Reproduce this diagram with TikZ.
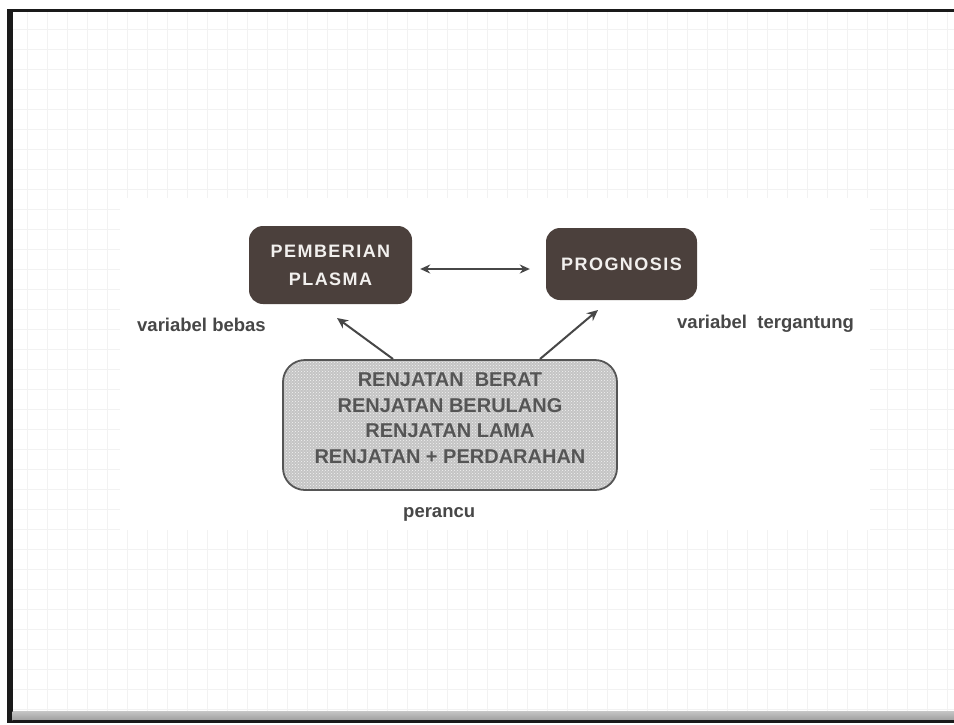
\documentclass[tikz,border=0pt]{standalone}
\usepackage{fontspec}
\setmainfont{Liberation Sans}
\usetikzlibrary{arrows.meta,patterns}
\definecolor{boxbrown}{HTML}{4B403C}
\definecolor{boxtext}{HTML}{F2F0EE}
\definecolor{labelgrey}{HTML}{474747}
\definecolor{confgrey}{HTML}{555555}
\definecolor{conffill}{HTML}{C4C4C4}
\definecolor{gridgrey}{HTML}{F2F2F2}
\definecolor{framedark}{HTML}{1A1A1A}
\tikzset{
  darkbox/.style={fill=boxbrown, draw=none, rounded corners=14pt,
    text=boxtext, font=\bfseries\fontsize{18}{28}\selectfont\addfontfeature{LetterSpace=8},
    align=center, inner sep=0pt},
  confbox/.style={draw=confgrey, line width=1.8pt, preaction={fill=conffill},
    pattern=crosshatch dots, pattern color=white!80!conffill,
    rounded corners=22pt, text=confgrey, align=center, inner sep=0pt,
    font=\bfseries\fontsize{20}{25.5}\selectfont},
  lbl/.style={text=labelgrey, font=\bfseries\fontsize{18.5}{22}\selectfont, inner sep=0pt},
  conn/.style={draw=labelgrey, line width=2pt, -{Stealth[length=11pt,width=10pt]}},
  dconn/.style={draw=labelgrey, line width=2pt, {Stealth[length=10pt,width=9pt]}-{Stealth[length=10pt,width=9pt]}},
  gridline/.style={draw=gridgrey, line width=0.8pt}
}
\begin{document}
\begin{tikzpicture}[x=1pt,y=-1pt]
\useasboundingbox (0,0) rectangle (954,724);
\fill[white] (0,0) rectangle (954,724);
% grid
\foreach \gx in {27,47,...,947} \draw[gridline] (\gx,12) -- (\gx,712);
\foreach \gy in {29,49,...,709} \draw[gridline] (12,\gy) -- (954,\gy);
% scanned picture area (plain white)
\fill[white] (120,198) rectangle (870,530);
% slide frame
\fill[framedark] (7,9) rectangle (954,12);
\fill[framedark] (7,9) rectangle (12.5,723);
\shade[top color=gray!45, bottom color=gray!75] (12.5,711) rectangle (954,720);
\fill[framedark] (12.5,720) rectangle (954,722.5);
% nodes
\node[darkbox, minimum width=163pt, minimum height=78pt] (pp) at (330.5,265) {PEMBERIAN\\PLASMA};
\node[darkbox, minimum width=151pt, minimum height=72pt] (prog) at (621.5,264) {PROGNOSIS};
\node[confbox, minimum width=334pt, minimum height=130pt, text depth=14pt] (conf) at (450,425)
  {RENJATAN\ \ BERAT\\RENJATAN BERULANG\\RENJATAN LAMA\\RENJATAN + PERDARAHAN};
\node[lbl, anchor=base west] (lbebas) at (137,331) {variabel bebas};
\node[lbl, anchor=base west] (lterg) at (677,328) {variabel\ \ tergantung};
\node[lbl, anchor=base west] (lper) at (403,517) {perancu};
% connectors
\draw[dconn] ([xshift=8pt,yshift=-4pt]pp.east) -- ([xshift=-16pt,yshift=-5pt]prog.west);
\coordinate (s1) at (393,359);
\coordinate (t1) at (337,318);
\coordinate (s2) at (540,359);
\coordinate (t2) at (598,310);
\draw[conn] (s1) -- (t1);
\draw[conn] (s2) -- (t2);
\end{tikzpicture}
\end{document}
